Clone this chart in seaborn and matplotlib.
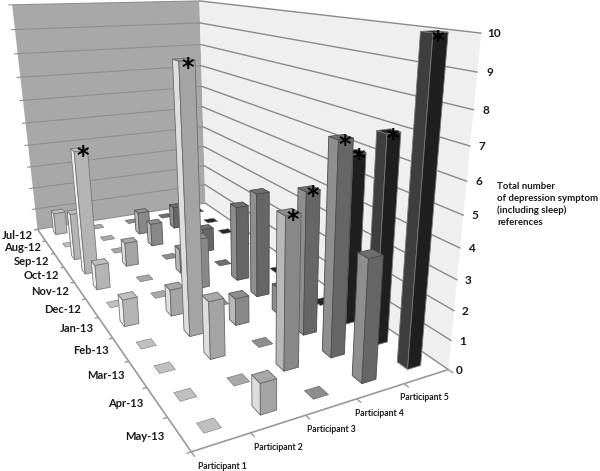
import numpy as np
import matplotlib
matplotlib.use("Agg")
import matplotlib.pyplot as plt
import seaborn as sns
from mpl_toolkits.mplot3d.art3d import Poly3DCollection

months = ["Jul-12","Aug-12","Sep-12","Oct-12","Nov-12","Dec-12","Jan-13","Feb-13","Mar-13","Apr-13","May-13"]
participants = ["Participant 1","Participant 2","Participant 3","Participant 4","Participant 5"]
z_ticks = list(range(11))

# references per month, one list per participant
p1 = [1,0,2,5,1,0,1,0,0,0,0]
p2 = [0,0,0,1,0,0,1,9,2,0,1]
p3 = [0,1,1,0,1,2,0,1,0,5,0]
p4 = [0,1,0,1,0,3,4,1,5,7,4]
p5 = [0,0,0,0,0,0,0,0,6,7,10]
series = [p1,p2,p3,p4,p5]

# (participant, month) of the bars marked with an asterisk
starred = [(0,3),(1,7),(2,9),(3,8),(3,9),(4,8),(4,9),(4,10)]

# left face, right face, top, edge
shades = [("#f0f0f0","#b4b4b4","#c0c0c0","#777777"),
          ("#dedede","#a4a4a4","#a8a8a8","#6a6a6a"),
          ("#b8b8b8","#888888","#8e8e8e","#5c5c5c"),
          ("#8e8e8e","#666666","#6e6e6e","#4c4c4c"),
          ("#3e3e3e","#1f1f1f","#262626","#777777")]

# camera calibration, floor and wall corners
world = np.array([[0,11,0],[0,0,0],[5,11,0],[5,0,0],[5,11,10],[0,0,10],[5,0,10]],float)
pix = np.array([[191.7,451.7],[37.7,229.3],[448.3,370],[205,203],[480.7,32.7],[11.7,5],[200,1]],float)
pix[:,1] = 471 - pix[:,1]

A = []
for (X,Y,Z),(u,v) in zip(world,pix):
    A.append([X,Y,Z,1,0,0,0,0,-u*X,-u*Y,-u*Z,-u])
    A.append([0,0,0,0,X,Y,Z,1,-v*X,-v*Y,-v*Z,-v])
P = np.linalg.svd(np.array(A))[2][-1].reshape(3,4)
if P[2] @ [2.5,5.5,0,1] < 0:
    P = -P

sns.set_theme(style="white")
plt.rcParams["font.family"] = ["Lato","DejaVu Sans"]
fig = plt.figure(figsize=(6,4.71), dpi=100)
ax = fig.add_axes([0,0,1,1], projection="3d", computed_zorder=False)
ax.set_axis_off()

def get_proj():
    r = np.linalg.inv(ax.transData.get_affine().get_matrix()) @ P
    return np.array([r[0], r[1], [0,0,0,-1], r[2]])
ax.get_proj = get_proj

def add_faces(faces, colors, ec="none", lw=.6, z=1):
    ax.add_collection3d(Poly3DCollection(faces, facecolors=colors, edgecolors=ec, linewidths=lw, clip_on=False, zorder=z))

def label(x, y, z, s, **kw):
    # text sits in figure coordinates, placed through the camera
    u, v, t = P @ [x, y, z, 1]
    fig.text(u/t/600, v/t/471, s, va="center", fontweight="bold", **kw)

# walls
add_faces([[(0,0,0),(5,0,0),(5,0,10),(0,0,10)]], ["#a8a8a8"])
add_faces([[(5,0,0),(5,11,0),(5,11,10),(5,0,10)]], ["#efefef"])
for z in z_ticks:
    ax.plot([-.08,5],[0,0],[z,z],color="#8f8f8f",lw=.8,clip_on=False,zorder=2)
    ax.plot([5,5],[0,11],[z,z],color="#8a8a8a",lw=1,clip_on=False,zorder=2)

# floor axes
ax.plot([0,0,5],[0,11,11],[0,0,0],color="#999999",lw=1.2,clip_on=False,zorder=2)
for m in range(12):
    ax.plot([-.07,0],[m,m],[0,0],color="#999999",lw=1,clip_on=False,zorder=2)
for p in range(6):
    ax.plot([p,p],[11,11.12],[0,0],color="#999999",lw=1,clip_on=False,zorder=2)

# bars far to near
w = 0.15
order = 3
for m in range(11):
    for p in reversed(range(5)):
        h = series[p][m]
        x0,x1 = p+.5-w, p+.5+w
        y0,y1 = m+.5-w, m+.5+w
        left,right,top,edge = shades[p]
        top_face = [(x0,y0,h),(x1,y0,h),(x1,y1,h),(x0,y1,h)]
        if h == 0:
            add_faces([top_face],[top],edge,.4,order)
        else:
            left_face = [(x0,y0,0),(x0,y1,0),(x0,y1,h),(x0,y0,h)]
            right_face = [(x0,y1,0),(x1,y1,0),(x1,y1,h),(x0,y1,h)]
            add_faces([left_face,right_face,top_face],[left,right,top],edge,.6,order)
        order += 1

for p,m in starred:
    label(p+.5+.05,m+.5+.05,series[p][m]-.23,"*",family="DejaVu Sans",fontsize=17,color="black",ha="center")

# labels
for m,name in enumerate(months):
    label(-.22,m+.45,0,name,ha="right",fontsize=8,color="#1a1a1a")
for p,name in enumerate(participants):
    label(p+.5,11,-.75,name,ha="center",fontsize=6.2,color="#1a1a1a")
for z in z_ticks:
    label(5.15,11.12,z,str(z),ha="center",fontsize=8.5,color="#1a1a1a")

fig.text(497/600,1-204.5/471,"Total number\nof depression symptom\n(including sleep)\nreferences",
         ha="left",va="center",fontsize=6.9,fontweight="bold",color="#1a1a1a",linespacing=1.36)

fig.savefig("out.png", dpi=100)
